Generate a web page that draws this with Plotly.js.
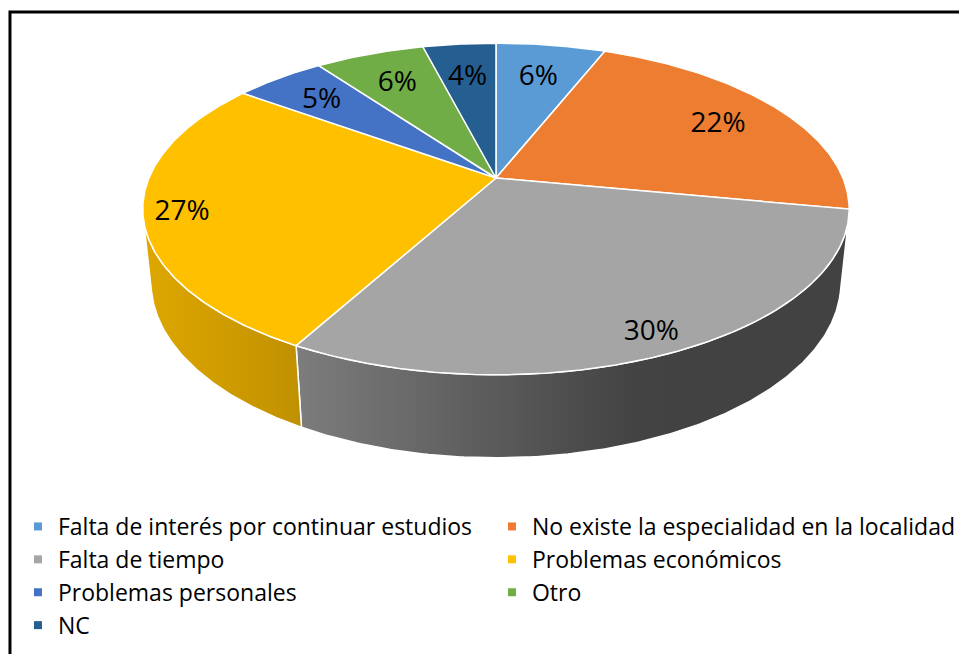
<!DOCTYPE html>
<html>
<head>
<meta charset="utf-8">
<script src="https://cdn.plot.ly/plotly-3.0.1.min.js"></script>
<style>html,body{margin:0;padding:0;background:#fff}#chart{width:961px;height:654px}</style>
</head>
<body>
<div id="chart"></div>
<script>
// ---- data ----
const categories = [
  "Falta de interés por continuar estudios",
  "No existe la especialidad en la localidad",
  "Falta de tiempo",
  "Problemas económicos",
  "Problemas personales",
  "Otro",
  "NC"
];
const percentages = [6, 22, 30, 27, 5, 6, 4];
const sliceColors = ["#5B9BD5", "#ED7D31", "#A5A5A5", "#FFC000", "#4472C4", "#70AD47", "#255E91"];

// ---- 3D pie projection (perspective) ----
const CX = 497, CY = 178;
const ALPHA = 27.4 * Math.PI / 180;
const CAM = 4.754, FOC = 1653, DEPTH = 0.24;
const sa = Math.sin(ALPHA), ca = Math.cos(ALPHA);
function project(X, Y, Z) {
  const d = CAM + Y * ca - Z * sa;
  return [CX + FOC * X / d, CY - FOC * (Y * sa + Z * ca) / d];
}
function arc(t0, t1, r, Z) {
  const pts = [];
  const n = Math.max(2, Math.ceil(Math.abs(t1 - t0) / (0.5 * Math.PI / 180)));
  for (let i = 0; i <= n; i++) {
    const t = t0 + (t1 - t0) * i / n;
    pts.push(project(r * Math.sin(t), r * Math.cos(t), Z));
  }
  return pts;
}
// lighting along the front wall (screen x -> brightness)
const shadePts = [[143, 0.87], [297, 0.755], [640, 0.40], [851, 0.40]];
function shade(x) {
  if (x <= shadePts[0][0]) return shadePts[0][1];
  for (let i = 1; i < shadePts.length; i++) {
    if (x <= shadePts[i][0]) {
      const [x0, f0] = shadePts[i - 1], [x1, f1] = shadePts[i];
      return f0 + (f1 - f0) * (x - x0) / (x1 - x0);
    }
  }
  return shadePts[shadePts.length - 1][1];
}
function hexToRgb(h) { return [1, 3, 5].map(i => parseInt(h.substr(i, 2), 16)); }
function shadeColor(hex, f) {
  const c = hexToRgb(hex).map(v => Math.round(Math.min(255, v * f)));
  return `rgb(${c[0]},${c[1]},${c[2]})`;
}

const total = percentages.reduce((a, b) => a + b, 0);
const tVis0 = Math.acos(-1 / (CAM * ca));
const tVis1 = 2 * Math.PI - tVis0;

const wallTraces = [], topTraces = [];
const labelX = [], labelY = [], labelText = [];
let cum = 0;
percentages.forEach((p, i) => {
  const t0 = 2 * Math.PI * cum / total;
  const t1 = 2 * Math.PI * (cum + p) / total;
  cum += p;
  // top face
  const top = [project(0, 0, 0), ...arc(t0, t1, 1, 0), project(0, 0, 0)];
  topTraces.push({
    type: 'scatter', mode: 'lines', fill: 'toself',
    x: top.map(q => q[0]), y: top.map(q => q[1]),
    fillcolor: sliceColors[i],
    line: { color: '#ffffff', width: 1.5 },
    showlegend: false, hoverinfo: 'skip'
  });
  // side wall (visible front part only)
  const a = Math.max(t0, tVis0), b = Math.min(t1, tVis1);
  if (a < b) {
    const wall = [...arc(a, b, 1, 0), ...arc(b, a, 1, -DEPTH)];
    wall.push(wall[0]);
    const xs = wall.map(q => q[0]);
    const xmin = Math.min(...xs), xmax = Math.max(...xs);
    const stops = [];
    for (let k = 0; k <= 10; k++) {
      const xx = xmin + (xmax - xmin) * k / 10;
      stops.push([k / 10, shadeColor(sliceColors[i], shade(xx))]);
    }
    wallTraces.push({
      type: 'scatter', mode: 'lines', fill: 'toself',
      x: xs, y: wall.map(q => q[1]),
      fillcolor: stops[5][1],
      fillgradient: { type: 'horizontal', colorscale: stops, start: xmin, stop: xmax },
      line: { color: '#ffffff', width: 1.5 },
      showlegend: false, hoverinfo: 'skip'
    });
  }
  // data label on the top face, at the slice's mid angle
  const tm = (t0 + t1) / 2;
  const rl = 0.82 - 0.08 * Math.cos(tm) + 0.06 * Math.pow(Math.max(0, -Math.sin(tm)), 3);
  const lp = project(rl * Math.sin(tm), rl * Math.cos(tm), 0);
  labelX.push(lp[0]);
  labelY.push(lp[1] + 3);
  labelText.push(p + '%');
});

const labelTrace = {
  type: 'scatter', mode: 'text', x: labelX, y: labelY, text: labelText,
  textposition: 'middle center',
  textfont: { family: 'Open Sans, sans-serif', size: 28, color: '#000000' },
  cliponaxis: false, showlegend: false, hoverinfo: 'skip'
};

// legend: two columns (left column = even entries, right column = odd entries)
const legendTraces = categories.map((c, i) => ({
  type: 'scatter', mode: 'markers', x: [null], y: [null], name: c,
  legend: i % 2 === 0 ? 'legend' : 'legend2',
  marker: { symbol: 'square', size: 8, color: sliceColors[i] },
  showlegend: true, hoverinfo: 'skip'
}));

const legendCommon = {
  orientation: 'v', xanchor: 'left', y: 1 - 505 / 654, yanchor: 'top',
  font: { family: 'Open Sans, sans-serif', size: 23, color: '#000000' },
  bgcolor: 'rgba(0,0,0,0)', itemclick: false, itemdoubleclick: false, tracegroupgap: 0
};

const layout = {
  width: 961, height: 654,
  margin: { l: 0, r: 0, t: 0, b: 0 },
  paper_bgcolor: '#ffffff', plot_bgcolor: '#ffffff',
  xaxis: { range: [0, 961], visible: false, fixedrange: true },
  yaxis: { range: [654, 0], visible: false, fixedrange: true },
  hovermode: false,
  showlegend: true,
  legend: Object.assign({}, legendCommon, { x: 18 / 961 }),
  legend2: Object.assign({}, legendCommon, { x: 493 / 961 }),
  shapes: [{
    type: 'rect', xref: 'x', yref: 'y', x0: 10, y0: 12, x1: 990, y1: 690,
    line: { color: '#000000', width: 3 }, fillcolor: 'rgba(0,0,0,0)', layer: 'above'
  }]
};

Plotly.newPlot('chart', [...wallTraces, ...topTraces, labelTrace, ...legendTraces], layout,
  { displayModeBar: false, staticPlot: true });
</script>
</body>
</html>
